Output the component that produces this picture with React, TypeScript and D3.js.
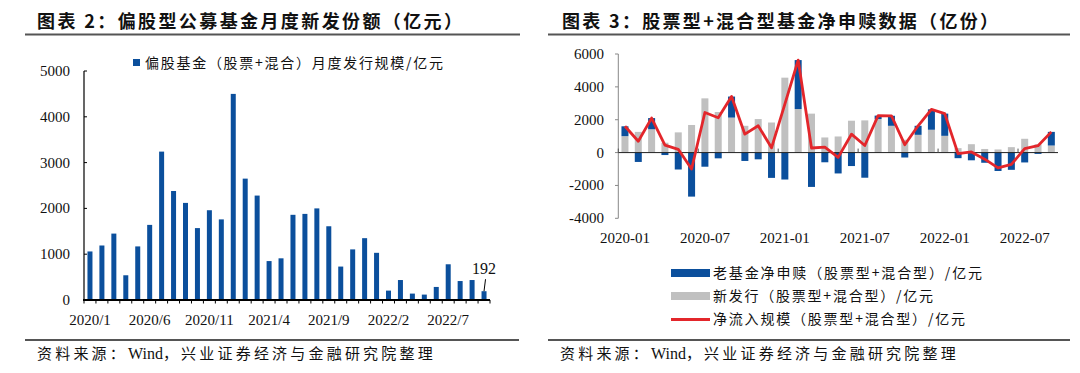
import React from "react";
import * as d3 from "d3";

// ---------- Left chart data ----------
const leftMonths: string[] = (() => {
  const out: string[] = [];
  for (let y = 2020; y <= 2022; y++) for (let m = 1; m <= 12; m++) out.push(`${y}/${m}`);
  return out.slice(0, 34);
})();
const leftIssue: number[] = [
  1060, 1190, 1450, 540, 1170, 1640, 3240, 2380, 2120, 1570, 1960, 1760, 4500, 2650, 2280, 850, 910,
  1860, 1880, 2000, 1610, 730, 1105, 1350, 1030, 205, 436, 140, 118, 285, 780, 414, 436, 192,
];
const leftTicks: number[] = [0, 1000, 2000, 3000, 4000, 5000];
const leftLabelIdx: number[] = [0, 5, 10, 15, 20, 25, 30];

// ---------- Right chart data ----------
const rightMonths: string[] = (() => {
  const out: string[] = [];
  for (let y = 2020; y <= 2022; y++)
    for (let m = 1; m <= 12; m++) out.push(`${y}-${String(m).padStart(2, "0")}`);
  return out.slice(0, 33);
})();
const newIssue: number[] = [
  1000, 1260, 1420, 600, 1230, 1680, 3300, 2470, 2130, 1630, 2040, 1830, 4560, 2650, 2370, 920, 980,
  1940, 1960, 2040, 1630, 780, 1080, 1390, 1020, 270, 510, 220, 190, 330, 840, 500, 430,
];
const oldNet: number[] = [
  600, -570, 680, -150, -1030, -2680, -860, -350, 1280, -510, -410, -1540, -1640, 2980, -2090, -590,
  -1270, -820, -1530, 210, 610, -300, 550, 1240, 1350, -340, -470, -620, -1120, -1050, -600, -80, 830,
];
const netFlow: number[] = [
  1600, 690, 2100, 450, 200, -1000, 2440, 2120, 3410, 1120, 1630, 290, 2950, 5630, 280, 330, -290,
  1120, 430, 2250, 2240, 480, 1630, 2630, 2370, -70, 40, -400, -930, -720, 240, 420, 1260,
];
const rightTicks: number[] = [-4000, -2000, 0, 2000, 4000, 6000];
const rightLabelIdx: number[] = [0, 6, 12, 18, 24, 30];

const SERIF = "'Liberation Serif', 'Noto Sans CJK SC', serif";
const CJK = "'Noto Sans CJK SC', 'Liberation Serif', sans-serif";
const BLUE = "#0b4f9c";
const GRAY = "#c0c0c0";
const RED = "#e3262b";
const RULE = "#555555";

function LeftChart() {
  const x = d3.scaleBand<number>().domain(d3.range(leftIssue.length)).range([84, 490]).padding(0);
  const y = d3.scaleLinear().domain([0, 5000]).range([300, 71]);
  const bw = x.bandwidth();
  const barW = 5;
  const last = leftIssue.length - 1;
  const lastX = (x(last) as number) + bw / 2;
  return (
    <g>
      {leftIssue.map((v, i) => (
        <rect key={i} x={(x(i) as number) + (bw - barW) / 2} y={y(v)} width={barW} height={y(0) - y(v)} fill={BLUE} />
      ))}
      <line x1={84} x2={84} y1={y(5000)} y2={y(0)} stroke="#000" strokeWidth={1.2} />
      {leftTicks.map((t) => (
        <g key={t}>
          <line x1={84} x2={87} y1={y(t)} y2={y(t)} stroke="#000" strokeWidth={1} />
          <text x={70} y={y(t) + 5} textAnchor="end" fontFamily={SERIF} fontSize={15} fill="#111">
            {t}
          </text>
        </g>
      ))}
      {d3.range(leftIssue.length + 1).map((i) => (
        <line key={i} x1={84 + i * bw} x2={84 + i * bw} y1={y(0)} y2={y(0) + 3.5} stroke="#000" strokeWidth={1} />
      ))}
      <line x1={83} x2={490} y1={y(0)} y2={y(0)} stroke="#000" strokeWidth={2.2} />
      {leftLabelIdx.map((i) => (
        <text key={i} x={(x(i) as number) + bw / 2} y={325} textAnchor="middle" fontFamily={SERIF} fontSize={15} fill="#111">
          {leftMonths[i]}
        </text>
      ))}
      <line x1={lastX + 1.5} x2={lastX} y1={y(leftIssue[last]) - 12} y2={y(leftIssue[last])} stroke="#000" strokeWidth={1} />
      <text x={lastX} y={274} textAnchor="middle" fontFamily={SERIF} fontSize={16} fill="#111">
        {leftIssue[last]}
      </text>
      <rect x={133} y={59} width={7} height={7} fill={BLUE} />
      <text x={145} y={68} fontFamily={CJK} fontSize={14} fill="#111" textLength={298} lengthAdjust="spacing">
        偏股基金（股票+混合）月度发行规模/亿元
      </text>
    </g>
  );
}

function RightChart() {
  const x = d3.scaleBand<number>().domain(d3.range(rightMonths.length)).range([618.3, 1058]).padding(0);
  const y = d3.scaleLinear().domain([-4000, 6000]).range([218.3, 54]);
  const bw = x.bandwidth();
  const barW = 7;
  const line = d3
    .line<number>()
    .x((_, i) => (x(i) as number) + bw / 2)
    .y((d) => y(d));
  return (
    <g>
      {newIssue.map((v, i) => (
        <rect key={"g" + i} x={(x(i) as number) + (bw - barW) / 2} y={y(v)} width={barW} height={y(0) - y(v)} fill={GRAY} />
      ))}
      {oldNet.map((v, i) => {
        const base = v >= 0 ? newIssue[i] : 0;
        const top = base + v;
        const y0 = Math.min(y(base), y(top));
        const h = Math.abs(y(base) - y(top));
        return <rect key={"b" + i} x={(x(i) as number) + (bw - barW) / 2} y={y0} width={barW} height={h} fill={BLUE} />;
      })}
      <line x1={618.3} x2={618.3} y1={y(6000)} y2={y(-4000)} stroke="#888" strokeWidth={1} />
      {rightTicks.map((t) => (
        <g key={t}>
          <line x1={615} x2={618.3} y1={y(t)} y2={y(t)} stroke="#888" strokeWidth={1} />
          <text x={604} y={y(t) + 5} textAnchor="end" fontFamily={SERIF} fontSize={15} fill="#111">
            {t}
          </text>
        </g>
      ))}
      <line x1={618.3} x2={1058} y1={y(0)} y2={y(0)} stroke="#222" strokeWidth={1} />
      {rightLabelIdx.map((i) => (
        <line key={"t" + i} x1={x(i) as number} x2={x(i) as number} y1={y(0)} y2={y(0) - 4} stroke="#555" strokeWidth={1} />
      ))}
      <path d={line(netFlow) || ""} fill="none" stroke={RED} strokeWidth={2.8} strokeLinejoin="round" />
      {rightLabelIdx.map((i) => (
        <text key={i} x={(x(i) as number) + bw / 2} y={243} textAnchor="middle" fontFamily={SERIF} fontSize={15} fill="#111">
          {rightMonths[i]}
        </text>
      ))}
      <rect x={671} y={269} width={39} height={8} fill={BLUE} />
      <text x={713} y={278} fontFamily={CJK} fontSize={14} fill="#111" textLength={269} lengthAdjust="spacing">
        老基金净申赎（股票型+混合型）/亿元
      </text>
      <rect x={671} y={292} width={39} height={8} fill={GRAY} />
      <text x={713} y={301} fontFamily={CJK} fontSize={14} fill="#111" textLength={220} lengthAdjust="spacing">
        新发行（股票型+混合型）/亿元
      </text>
      <line x1={671} x2={710} y1={319.5} y2={319.5} stroke={RED} strokeWidth={2.8} />
      <text x={713} y={324} fontFamily={CJK} fontSize={14} fill="#111" textLength={252} lengthAdjust="spacing">
        净流入规模（股票型+混合型）/亿元
      </text>
    </g>
  );
}

function Source({ x }: { x: number }) {
  return (
    <text x={x} y={359} fontFamily={CJK} fontSize={15} fill="#111">
      <tspan letterSpacing={3.2}>资料来源：</tspan>
      <tspan fontFamily={SERIF} fontSize={16}>Wind</tspan>
      <tspan letterSpacing={3.2}>，兴业证券经济与金融研究院整理</tspan>
    </text>
  );
}

export default function App() {
  return (
    <svg width={1080} height={373} style={{ position: "absolute", left: 0, top: 0, background: "#fff" }}>
      <rect x={0} y={0} width={1080} height={373} fill="#fff" />
      <text x={37} y={28} fontFamily={CJK} fontWeight="bold" fontSize={18} fill="#111" textLength={425} lengthAdjust="spacing">
        图表 2：偏股型公募基金月度新发份额（亿元）
      </text>
      <text x={562} y={28} fontFamily={CJK} fontWeight="bold" fontSize={18} fill="#111" textLength={436} lengthAdjust="spacing">
        图表 3：股票型+混合型基金净申赎数据（亿份）
      </text>
      <line x1={25} x2={520} y1={34.5} y2={34.5} stroke={RULE} strokeWidth={2} />
      <line x1={548} x2={1070} y1={34.5} y2={34.5} stroke={RULE} strokeWidth={2} />
      <LeftChart />
      <RightChart />
      <line x1={25} x2={519} y1={340} y2={340} stroke={RULE} strokeWidth={2} />
      <line x1={548} x2={1070} y1={340} y2={340} stroke={RULE} strokeWidth={2} />
      <Source x={37} />
      <Source x={560} />
    </svg>
  );
}
